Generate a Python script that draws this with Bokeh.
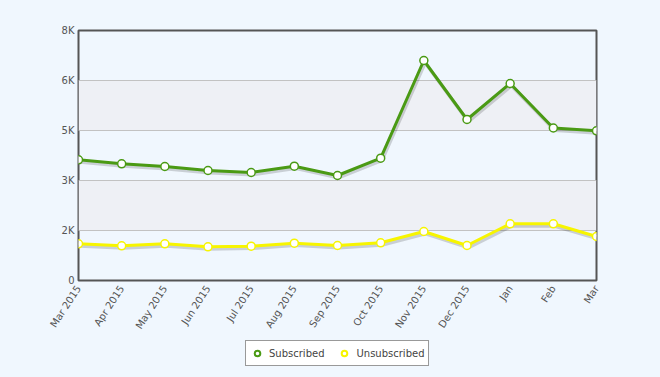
import math
from bokeh.plotting import figure
from bokeh.layouts import column
from bokeh.models import Range1d, FixedTicker, Legend, LegendItem, ColumnDataSource
from bokeh.transform import dodge
from bokeh.embed import file_html
from bokeh.resources import INLINE

months = ["Mar 2015", "Apr 2015", "May 2015", "Jun 2015", "Jul 2015", "Aug 2015",
          "Sep 2015", "Oct 2015", "Nov 2015", "Dec 2015", "Jan", "Feb", "Mar"]
subscribed = [3862, 3734, 3648, 3520, 3456, 3658, 3360, 3914, 7040, 5152, 6304, 4880, 4790]
unsubscribed = [1174, 1110, 1174, 1078, 1098, 1194, 1120, 1206, 1568, 1120, 1814, 1814, 1408]
series_names = ["Subscribed", "Unsubscribed"]
y_ticks = [0, 1600, 3200, 4800, 6400, 8000]
y_tick_labels = ["0", "2K", "3K", "5K", "6K", "8K"]

BG = "#f0f7fe"
GREEN = "#4a9a14"
YELLOW = "#f7f500"
FONT = "DejaVu Sans"

xs = list(range(len(months)))
src = ColumnDataSource(dict(x=xs, sub=subscribed, unsub=unsubscribed))

p = figure(width=660, height=336, output_backend="svg", toolbar_location=None,
           x_range=Range1d(0, len(months) - 1), y_range=Range1d(y_ticks[0], y_ticks[-1]),
           min_border_left=78, min_border_right=64, min_border_top=30, min_border_bottom=56,
           styles={"background-color": BG})
p.background_fill_color = BG
p.border_fill_color = BG
p.outline_line_color = "#555555"
p.outline_line_width = 2

p.xaxis.ticker = FixedTicker(ticks=xs)
p.xaxis.major_label_overrides = {i: m for i, m in enumerate(months)}
p.xaxis.major_label_orientation = math.radians(57)
p.yaxis.ticker = FixedTicker(ticks=y_ticks)
p.yaxis.major_label_overrides = {t: l for t, l in zip(y_ticks, y_tick_labels)}
for ax in (p.xaxis, p.yaxis):
    ax.axis_line_color = None
    ax.major_tick_line_color = None
    ax.minor_tick_line_color = None
    ax.major_tick_out = 0
    ax.major_tick_in = 0
    ax.major_label_text_font = FONT
    ax.major_label_text_font_size = "10px"
    ax.major_label_text_color = "#555555"
p.xaxis.major_label_standoff = 6
p.yaxis.major_label_standoff = 4

p.xgrid.grid_line_color = None
p.ygrid.grid_line_color = "#c2c2c2"
p.ygrid.grid_line_width = 1
p.ygrid.band_fill_color = "#eef0f5"
p.ygrid.band_fill_alpha = 1.0

# drop shadows
for col in ("sub", "unsub"):
    p.line(x=dodge("x", 0.03, range=p.x_range), y=dodge(col, -70, range=p.y_range),
           source=src, line_color="#000000", line_alpha=0.16, line_width=3.5)

p.line("x", "unsub", source=src, line_color=YELLOW, line_width=3)
p.scatter("x", "unsub", source=src, size=8, fill_color="white",
          line_color=YELLOW, line_width=1.5)
p.line("x", "sub", source=src, line_color=GREEN, line_width=3)
p.scatter("x", "sub", source=src, size=8, fill_color="white",
          line_color=GREEN, line_width=1.5)

# legend strip below the chart (its frame is aligned with the chart's frame)
lf = figure(width=660, height=41, output_backend="svg", toolbar_location=None,
            x_range=Range1d(-1, -0.5), y_range=Range1d(-1, -0.5),
            x_axis_type=None, y_axis_type=None, min_border=0,
            styles={"background-color": BG})
lf.background_fill_color = BG
lf.border_fill_color = BG
lf.outline_line_color = None
lf.xgrid.visible = False
lf.ygrid.visible = False
# legend proxies reuse the series data; it lies outside this strip's ranges, so only the legend shows
lg_sub = lf.scatter("x", "sub", source=src, size=7, fill_color="white", line_color=GREEN, line_width=2)
lg_unsub = lf.scatter("x", "unsub", source=src, size=7, fill_color="white", line_color=YELLOW, line_width=2)

lg = Legend(items=[LegendItem(label=series_names[0], renderers=[lg_sub]),
                   LegendItem(label=series_names[1], renderers=[lg_unsub])],
            orientation="horizontal", location=(167, 11))
lg.margin = 0
lg.padding = 4
lg.spacing = 13
lg.glyph_width = 14
lg.glyph_height = 14
lg.label_height = 16
lg.label_standoff = 5
lg.label_text_font = FONT
lg.label_text_font_size = "10px"
lg.label_text_color = "#444444"
lg.background_fill_color = "white"
lg.background_fill_alpha = 1.0
lg.border_line_color = "#333333"
lg.border_line_width = 1
lf.add_layout(lg, "center")

layout = column(p, lf, spacing=0, styles={"background-color": BG})
html = file_html(layout, INLINE)
html = html.replace("<body>", '<body style="margin:0;background:%s">' % BG, 1)
open("out.html", "w").write(html)
